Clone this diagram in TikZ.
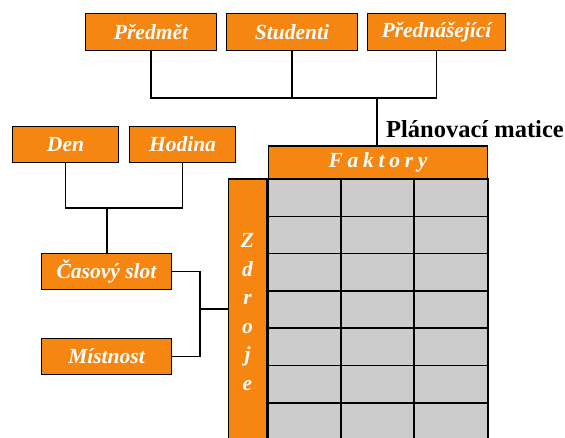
\documentclass[tikz,border=0pt]{standalone}
\usepackage{fontspec}
\setmainfont{Liberation Serif}
\definecolor{oranz}{RGB}{245,134,18}
\definecolor{seda}{RGB}{204,204,204}

\begin{document}
\begin{tikzpicture}[x=1pt, y=-1pt, align=center,
  box/.style={draw, fill=oranz, line width=1.5pt, inner sep=0pt, text=white,
    font=\fontsize{21.5}{24}\selectfont\bfseries\itshape},
  cell/.style={draw, fill=seda, line width=1.5pt},
  spoj/.style={draw, line width=1.5pt}]
\useasboundingbox (0,0) rectangle (565,437);

\foreach \x/\w in {268/73, 341/73, 414/74}
  \foreach \r in {0,...,7}
    \draw[cell] (\x,179+37.3*\r) rectangle ++(\w,37.3);

\path (151,32) node[box, minimum width=131pt, minimum height=37pt] (predmet) {Předmět}
	  (292,32) node[box, minimum width=131pt, minimum height=37pt] (studenti) {Studenti}
	  (436.5,32) node[box, minimum width=138pt, minimum height=37pt] (prednasejici) {Přednášející}
	  
	  (65.5,144.5) node[box, minimum width=106pt, minimum height=36pt] (den) {Den}
	  (182.5,144.5) node[box, minimum width=106pt, minimum height=36pt] (hodina) {Hodina}
	  (106.5,271.5) node[box, minimum width=130pt, minimum height=36pt] (slot) {Časový slot}
	  (106.5,356.5) node[box, minimum width=130pt, minimum height=36pt] (mistnost) {Místnost}
	  
	  (378,162.5) node[box, minimum width=219pt, minimum height=33pt] (faktory) {\addfontfeature{LetterSpace=22}Faktory}
	  (247.5,312) node[box, minimum width=38pt, minimum height=266pt,
	    font=\fontsize{21.5}{28.6}\selectfont\bfseries\itshape] (zdroje) {Z\\d\\r\\o\\j\\e}
	  (475,129) node[font=\fontsize{24.5}{26}\selectfont\bfseries] (matice) {Plánovací matice};

\coordinate (h1) at (377,98);
\coordinate (h2) at (107,208);
\coordinate (h3) at (200,309);

\draw[spoj] (predmet) |- (h1);
\draw[spoj] (prednasejici) |- (h1);
\draw[spoj] (studenti) -- (studenti |- h1);
\draw[spoj] (h1) -- (h1 |- faktory.north);

\draw[spoj] (den) |- (h2);
\draw[spoj] (hodina) |- (h2);
\draw[spoj] (h2) -- (h2 |- slot.north);

\draw[spoj] (slot) -| (h3);
\draw[spoj] (mistnost) -| (h3);
\draw[spoj] (h3) -- (zdroje.west |- h3);
\end{tikzpicture}
\end{document}
